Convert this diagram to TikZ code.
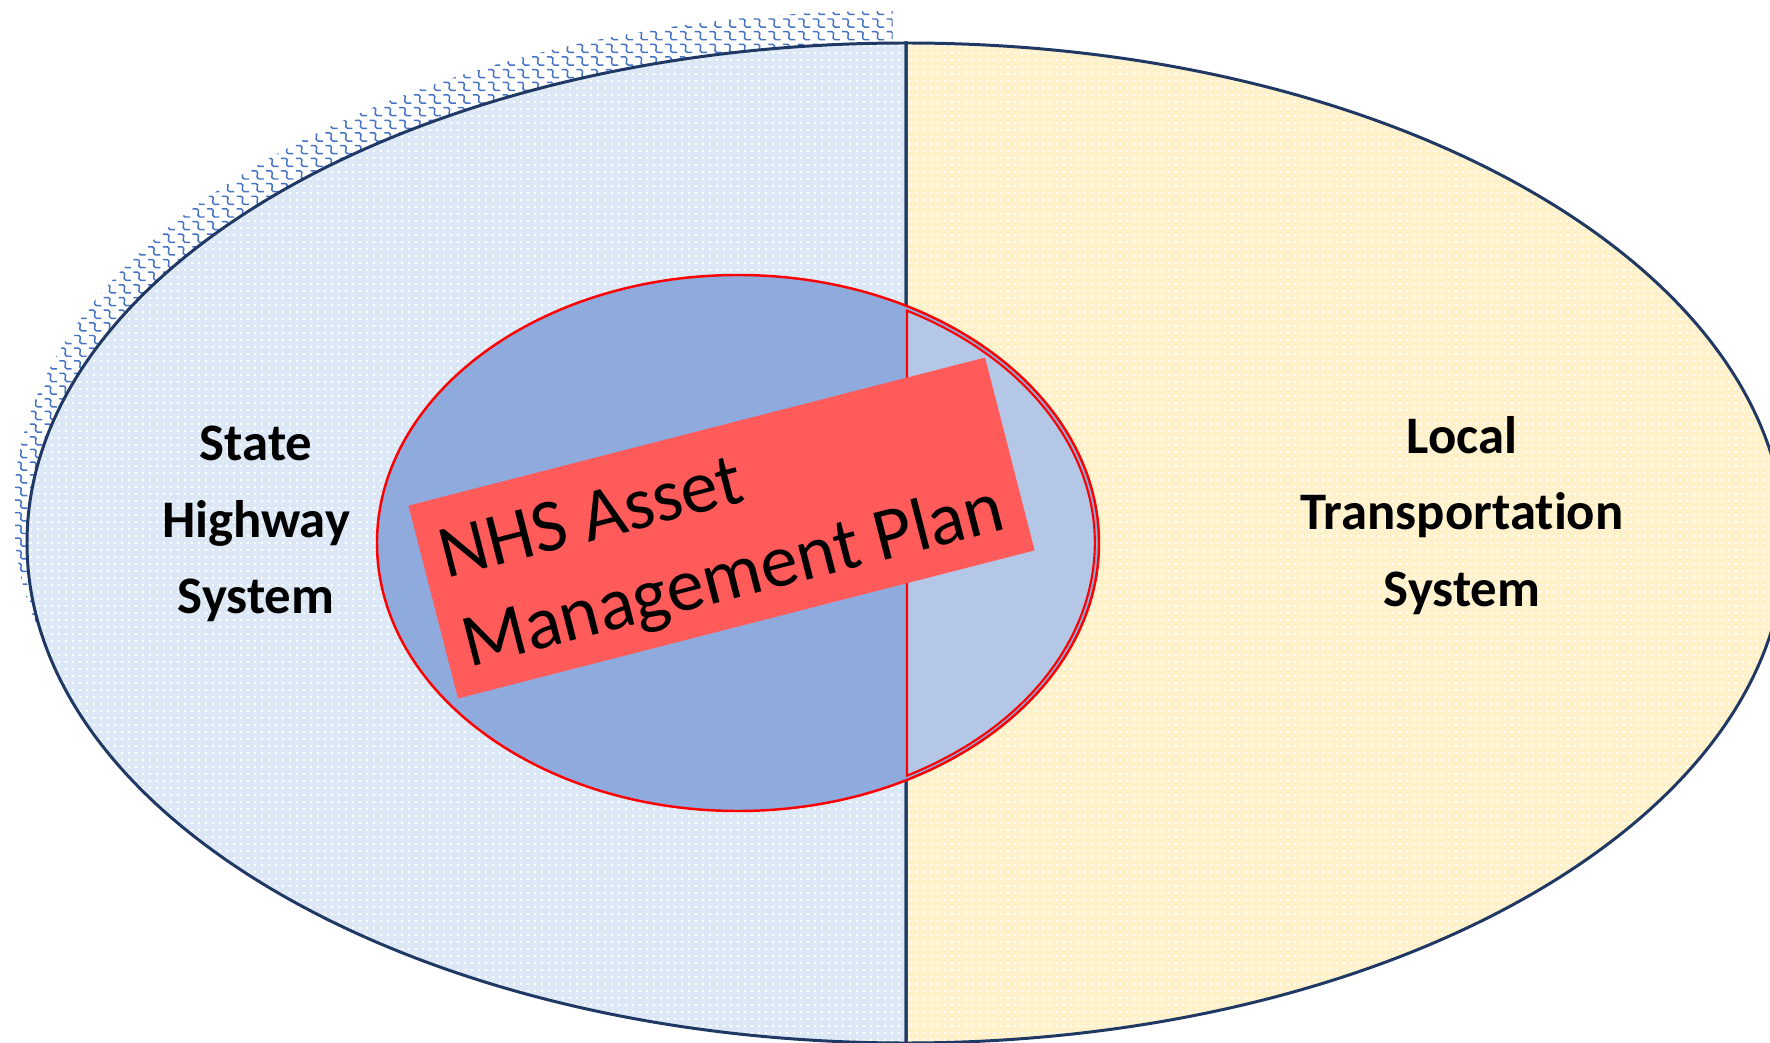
\documentclass[tikz,border=0pt]{standalone}
\usepackage{fontspec}
\setmainfont{Carlito}[Ligatures={NoCommon}]
\usetikzlibrary{patterns}

% small blue waves used for the raised edge of the state half
\pgfdeclarepatternformonly{ripple}{\pgfqpoint{-0.3pt}{-0.3pt}}{\pgfqpoint{4.5pt}{3.9pt}}{\pgfqpoint{4.2pt}{3.6pt}}{%
  \pgfsetlinewidth{0.42pt}%
  \pgfpathmoveto{\pgfqpoint{0.1pt}{2.9pt}}%
  \pgfpathlineto{\pgfqpoint{1.4pt}{2.9pt}}%
  \pgfpathcurveto{\pgfqpoint{2.6pt}{2.6pt}}{\pgfqpoint{0.9pt}{1.0pt}}{\pgfqpoint{2.2pt}{0.6pt}}%
  \pgfpathlineto{\pgfqpoint{3.6pt}{0.6pt}}%
  \pgfusepath{stroke}}

% fine white dot screen laid over the light fills
\pgfdeclarepatternformonly{finedots}{\pgfqpoint{0pt}{0pt}}{\pgfqpoint{2pt}{2pt}}{\pgfqpoint{2pt}{2pt}}{%
  \pgfpathrectangle{\pgfqpoint{0.7pt}{0.7pt}}{\pgfqpoint{0.55pt}{0.55pt}}%
  \pgfusepath{fill}}

\definecolor{navy}{HTML}{203864}
\definecolor{statefill}{HTML}{DCE8F5}
\definecolor{localfill}{HTML}{FFF1CA}
\definecolor{nhsfill}{HTML}{8FAADC}
\definecolor{nhslight}{HTML}{B4C7E7}
\definecolor{planred}{HTML}{FF5B5B}
\definecolor{rim}{HTML}{FF0000}
\definecolor{ripplecol}{HTML}{4472C4}

\begin{document}
\begin{tikzpicture}[x=0.01cm,y=0.01cm,
  halfshape/.style={draw=navy,line width=0.85pt},
  dotscreen/.style={pattern=finedots,pattern color=white},
  syslabel/.style={font=\fontsize{15}{21.8}\selectfont\bfseries,align=center,text=black,inner sep=0pt},
  plantext/.style={font=\fontsize{21.3}{26}\selectfont,align=left,text=black,inner sep=0pt}]
\useasboundingbox (0,0) rectangle (1770,1042);
\clip (0,0) rectangle (1770,1042);

% rippled edge behind the state half
\path[pattern=ripple,pattern color=ripplecol]
  (892.5,1031) arc[start angle=90,end angle=270,x radius=879,y radius=500] -- cycle;

% the two halves of the road network
\fill[statefill]
  (906,999) arc[start angle=90,end angle=270,x radius=879,y radius=500] -- cycle;
\path[dotscreen]
  (906,999) arc[start angle=90,end angle=270,x radius=879,y radius=500] -- cycle;
\fill[localfill]
  (906,999) arc[start angle=90,end angle=-90,x radius=879,y radius=500] -- cycle;
\path[dotscreen]
  (906,999) arc[start angle=90,end angle=-90,x radius=879,y radius=500] -- cycle;
\draw[halfshape] (906,999) arc[start angle=90,end angle=270,x radius=879,y radius=500] -- cycle;
\draw[halfshape] (906,999) arc[start angle=90,end angle=-90,x radius=879,y radius=500] -- cycle;

% NHS ellipse with its local part
\fill[nhsfill] (738,499) ellipse[x radius=361,y radius=268];
\filldraw[draw=rim,line width=0.6pt,fill=nhslight]
  (907,266.4) arc[start angle=-61.7,end angle=61.7,x radius=357,y radius=264] -- cycle;
\draw[rim,line width=0.7pt] (738,499) ellipse[x radius=361,y radius=268];

% plan banner
\node[fill=planred,rotate=14.4,minimum width=5.95cm,minimum height=1.99cm,inner sep=0pt]
  (plan) at (721.5,514) {};
\node[plantext,rotate=14.4] (plantitle) at (722.6,505.7) {NHS Asset\\Management Plan};

% system labels
\node[syslabel] (state) at (256,518) {State\\Highway\\System};
\node[syslabel] (local) at (1462,526.5) {Local\\Transportation\\System};
\end{tikzpicture}
\end{document}
